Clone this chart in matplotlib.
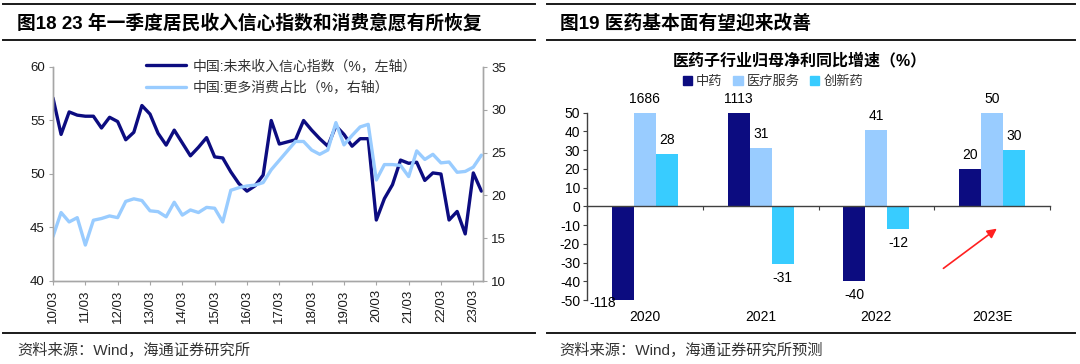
import numpy as np
import matplotlib.pyplot as plt
from matplotlib.lines import Line2D
from matplotlib.patches import Patch

plt.rcParams['font.family'] = ['Liberation Sans', 'Noto Sans CJK SC']
plt.rcParams['axes.unicode_minus'] = False

# left chart: quarterly survey data, 2010Q1 onwards
income_conf = [57.1, 53.7, 55.8, 55.5, 55.4, 55.4, 54.3, 55.3, 54.9, 53.2,
               53.9, 56.4, 55.6, 53.8, 52.7, 54.1, 52.9, 51.7, 52.5, 53.4,
               51.6, 51.5, 50.2, 49.1, 48.4, 48.9, 49.9, 55.0, 52.8, 53.0,
               53.2, 55.0, 54.1, 53.3, 52.6, 54.5, 53.7, 52.6, 53.3, 53.3,
               45.7, 47.7, 49.0, 51.3, 51.0, 51.1, 49.4, 50.1, 50.0, 45.7,
               46.5, 44.4, 50.1, 48.4]
more_consume = [15.2, 18.0, 16.9, 17.4, 14.2, 17.1, 17.3, 17.6, 17.4, 19.3,
                19.6, 19.4, 18.2, 18.1, 17.5, 19.2, 17.7, 18.3, 18.0, 18.6,
                18.5, 16.9, 20.6, 20.9, 21.1, 21.2, 21.5, 23.0, 24.1, 25.2,
                26.3, 26.3, 25.3, 24.8, 25.3, 28.5, 25.9, 27.0, 28.0, 28.3,
                21.8, 23.6, 23.6, 23.5, 22.2, 25.2, 24.2, 24.8, 23.8, 23.9,
                22.7, 22.8, 23.3, 24.7]
year_labels = ['10/03', '11/03', '12/03', '13/03', '14/03', '15/03', '16/03',
               '17/03', '18/03', '19/03', '20/03', '21/03', '22/03', '23/03']

# right chart
years = ['2020', '2021', '2022', '2023E']
tcm = [-118, 1113, -40, 20]
medical_service = [1686, 31, 41, 50]
innovative_drug = [28, -31, -12, 30]

navy = '#0c0c80'
light = '#99ccff'
cyan = '#38ccff'
gray = '#a6a6a6'

fig = plt.figure(figsize=(10.8, 3.64), dpi=100)

# ---------- left panel ----------
ax1 = fig.add_axes([53/1080, 1 - 281/364, 430/1080, 214/364])
x = np.arange(len(income_conf))
l1, = ax1.plot(x, income_conf, color=navy, lw=2.4, solid_joinstyle='round',
               solid_capstyle='round')
ax2 = ax1.twinx()
l2, = ax2.plot(x, more_consume, color=light, lw=2.4, solid_joinstyle='round',
               solid_capstyle='round')

ax1.set_xlim(0, 53.2)
ax1.set_ylim(40, 60)
ax2.set_ylim(10, 35)
ax1.set_yticks(range(40, 61, 5))
ax2.set_yticks(range(10, 36, 5))
ax1.set_xticks(range(0, 53, 4))
ax1.set_xticklabels(year_labels, rotation=90)

for a in (ax1, ax2):
    a.spines['top'].set_visible(False)
    for s in ('left', 'right', 'bottom'):
        a.spines[s].set_color(gray)
        a.spines[s].set_linewidth(1.0)
    a.tick_params(direction='out', length=3, color=gray, labelsize=9.5,
                  labelcolor='#1a1a1a', pad=3)

ax1.legend([l1, l2], ['中国:未来收入信心指数（%，左轴）', '中国:更多消费占比（%，右轴）'],
           loc='upper left', bbox_to_anchor=(146/1080, 1 - 59/364),
           bbox_transform=fig.transFigure, frameon=False, fontsize=10,
           handlelength=2.9, handletextpad=0.45, labelspacing=0.55,
           borderpad=0, borderaxespad=0, labelcolor='#333333')

# ---------- right panel ----------
ax3 = fig.add_axes([587/1080, 1 - 300/364, 463/1080, 187.3/364])
xs = np.arange(len(years))
bw = 0.19
series = [(tcm, navy, '中药'), (medical_service, light, '医疗服务'),
          (innovative_drug, cyan, '创新药')]
for j, (vals, col, name) in enumerate(series):
    pos = xs + (j - 1) * bw
    ax3.bar(pos, vals, width=bw, color=col, label=name)
    for px, v in zip(pos, vals):
        vc = min(max(v, -50), 50)
        if v < -50:
            ax3.annotate(str(v), (px, vc), xytext=(-5, -2), textcoords='offset points',
                         ha='right', va='center', fontsize=10, annotation_clip=False)
        elif v >= 0:
            ax3.annotate(str(v), (px, vc), xytext=(0, 5), textcoords='offset points',
                         ha='center', va='bottom', fontsize=10, annotation_clip=False)
        else:
            ax3.annotate(str(v), (px, vc), xytext=(0, -5), textcoords='offset points',
                         ha='center', va='top', fontsize=10, annotation_clip=False)

ax3.set_xlim(-0.5, 3.5)
ax3.set_ylim(-50, 50)
ax3.set_yticks(range(-50, 51, 10))
ax3.set_xticks(np.arange(-0.5, 3.6, 1))
ax3.set_xticklabels([])
ax3.spines['top'].set_visible(False)
ax3.spines['right'].set_visible(False)
ax3.spines['bottom'].set_position(('data', 0))
for s in ('left', 'bottom'):
    ax3.spines[s].set_color('#404040')
    ax3.spines[s].set_linewidth(1.0)
ax3.tick_params(direction='out', length=3, color='#404040', labelsize=10, pad=2)
for i, lab in enumerate(years):
    ax3.text(i, -0.09, lab, transform=ax3.get_xaxis_transform(),
             ha='center', va='center', fontsize=10)

# red arrow pointing to the 2023 recovery
arrow_tail = (2.56, -34)
arrow_head = (3.06, -11)
ax3.annotate('', xy=arrow_head, xytext=arrow_tail,
             arrowprops=dict(arrowstyle='-|>', color='#ff2020', lw=1.2,
                             mutation_scale=14))

fig.text(800/1080, 1 - 60/364, '医药子行业归母净利同比增速（%）', ha='center',
         va='center', fontsize=11.5, fontweight='bold')
fig.legend(handles=[Patch(color=c) for _, c, _ in series],
           labels=[n for _, _, n in series], loc='center',
           bbox_to_anchor=(773/1080, 1 - 82/364), ncol=3, frameon=False,
           fontsize=9.5, handlelength=0.7, handleheight=0.7, handletextpad=0.3,
           columnspacing=0.8, labelcolor='#333333')

# ---------- headers and sources ----------
for x0, x1 in ((3, 535), (547, 1075)):
    for yy in (4, 40, 333):
        fig.add_artist(Line2D([x0/1080, x1/1080], [1 - yy/364, 1 - yy/364],
                              transform=fig.transFigure, color='#1a1a1a', lw=1.4))

fig.text(17/1080, 1 - 23/364, '图18 23 年一季度居民收入信心指数和消费意愿有所恢复',
         ha='left', va='center', fontsize=13.5, fontweight='bold')
fig.text(560/1080, 1 - 23/364, '图19 医药基本面有望迎来改善',
         ha='left', va='center', fontsize=13.5, fontweight='bold')
fig.text(17/1080, 1 - 350/364, '资料来源：Wind，海通证券研究所',
         ha='left', va='center', fontsize=11, color='#333333')
fig.text(559/1080, 1 - 350/364, '资料来源：Wind，海通证券研究所预测',
         ha='left', va='center', fontsize=11, color='#333333')

fig.savefig('out.png', dpi=100)
